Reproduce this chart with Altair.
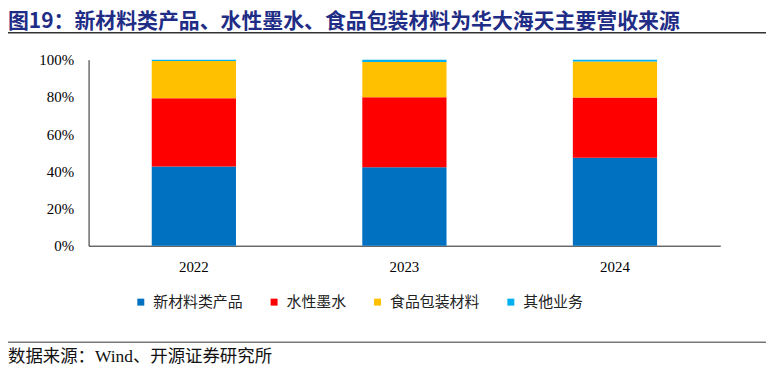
import altair as alt
import pandas as pd

years = ["2022", "2023", "2024"]
series = ["新材料类产品", "水性墨水", "食品包装材料", "其他业务"]
new_material = [42.6, 42.2, 47.3]
water_ink = [36.7, 37.6, 32.4]
food_pack = [20.0, 19.0, 19.3]
other_biz = [0.7, 1.2, 1.0]
colors = ["#0070C0", "#FF0000", "#FFC000", "#00B0F0"]
y_ticks = [0, 0.2, 0.4, 0.6, 0.8, 1.0]

title_text = "图19：新材料类产品、水性墨水、食品包装材料为华大海天主要营收来源"
source_text = "数据来源：Wind、开源证券研究所"

rows = []
for i, y in enumerate(years):
    for k, (name, vals) in enumerate(zip(series, [new_material, water_ink, food_pack, other_biz])):
        rows.append({"year": y, "series": name, "value": vals[i] / 100.0, "order": k})
df = pd.DataFrame(rows)

W, H = 635, 187
PL, PT, PR, PB = 81, 51, 46, 120

bars = alt.Chart(df).mark_bar().encode(
    x=alt.X("year:N", sort=years,
            scale=alt.Scale(paddingInner=0.6, paddingOuter=0.3),
            axis=alt.Axis(title=None, labelAngle=0, labelFont="Liberation Serif",
                          labelFontSize=15, labelColor="#000", labelPadding=14,
                          ticks=False, domainColor="#222", domainWidth=1)),
    y=alt.Y("value:Q", stack="zero",
            scale=alt.Scale(domain=[0, 1], nice=False),
            axis=alt.Axis(title=None, values=y_ticks, format=".0%", labelFont="Liberation Serif",
                          labelFontSize=15, labelColor="#000", labelPadding=15,
                          ticks=False, grid=False, domainColor="#222", domainWidth=1)),
    color=alt.Color("series:N", sort=series,
                    scale=alt.Scale(domain=series, range=colors),
                    legend=alt.Legend(title=None, orient="none", legendX=45, legendY=236,
                                      direction="horizontal", symbolType="square",
                                      symbolSize=49, symbolStrokeWidth=0,
                                      labelFont="Noto Sans CJK SC", labelFontSize=15,
                                      labelColor="#222", labelOffset=5, columnPadding=23)),
    order=alt.Order("order:Q", sort="ascending"),
)

title_df = pd.DataFrame({"t": [title_text]})
title = alt.Chart(title_df).mark_text(
    align="left", baseline="middle", fontSize=21, fontWeight="bold",
    font="Noto Sans CJK SC", color="#1F2D86"
).encode(x=alt.value(-81), y=alt.value(-38), text="t:N")

title_line = alt.Chart(title_df).mark_rule(color="#333", strokeWidth=1.5).encode(
    x=alt.value(-81), x2=alt.value(681), y=alt.value(-27)
)

src_df = pd.DataFrame({"t": [source_text]})
source_line = alt.Chart(src_df).mark_rule(color="#333", strokeWidth=1).encode(
    x=alt.value(-81), x2=alt.value(681), y=alt.value(284)
)
source = alt.Chart(src_df).mark_text(
    align="left", baseline="middle", fontSize=17.5,
    font="Liberation Serif, Noto Sans CJK SC", color="#111"
).encode(x=alt.value(-81), y=alt.value(299), text="t:N")

chart = alt.layer(bars, title, title_line, source_line, source).properties(
    width=W, height=H,
    autosize=alt.AutoSizeParams(type="none"),
    padding={"left": PL, "top": PT, "right": PR, "bottom": PB},
).configure_view(stroke=None)

chart.save("out.html", embed_options={"renderer": "svg", "actions": False})
